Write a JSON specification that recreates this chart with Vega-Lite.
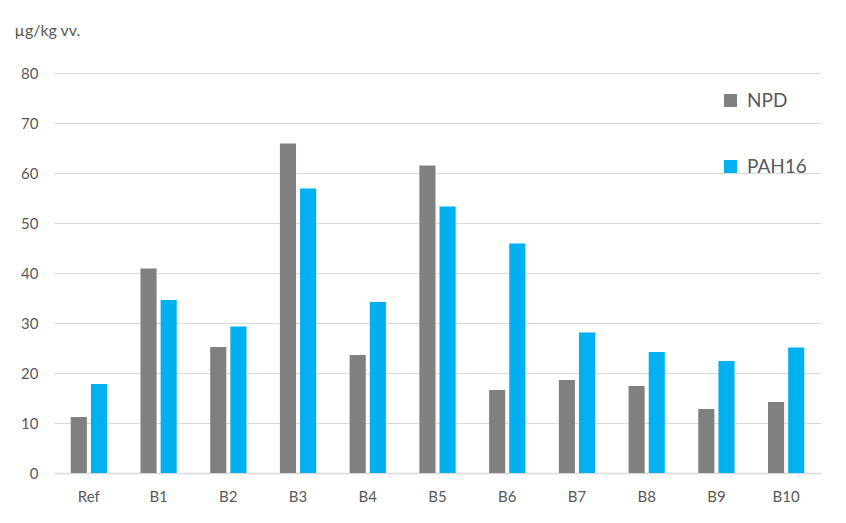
{
  "$schema": "https://vega.github.io/schema/vega-lite/v6.json",
  "width": 767,
  "height": 400,
  "autosize": {"type": "none"},
  "padding": {"left": 54, "top": 73, "right": 25, "bottom": 50},
  "background": "white",
  "config": {
    "font": "Lato",
    "view": {"stroke": null},
    "axis": {"labelFont": "Lato", "titleFont": "Lato", "labelColor": "#595959", "titleColor": "#595959"}
  },
  "data": {
    "values": [
      {"site": "Ref", "series": "NPD", "value": 11.2},
      {"site": "Ref", "series": "PAH16", "value": 17.8},
      {"site": "B1", "series": "NPD", "value": 40.9},
      {"site": "B1", "series": "PAH16", "value": 34.6},
      {"site": "B2", "series": "NPD", "value": 25.2},
      {"site": "B2", "series": "PAH16", "value": 29.3},
      {"site": "B3", "series": "NPD", "value": 65.9},
      {"site": "B3", "series": "PAH16", "value": 56.9},
      {"site": "B4", "series": "NPD", "value": 23.6},
      {"site": "B4", "series": "PAH16", "value": 34.2},
      {"site": "B5", "series": "NPD", "value": 61.5},
      {"site": "B5", "series": "PAH16", "value": 53.3},
      {"site": "B6", "series": "NPD", "value": 16.6},
      {"site": "B6", "series": "PAH16", "value": 45.9},
      {"site": "B7", "series": "NPD", "value": 18.6},
      {"site": "B7", "series": "PAH16", "value": 28.1},
      {"site": "B8", "series": "NPD", "value": 17.4},
      {"site": "B8", "series": "PAH16", "value": 24.2},
      {"site": "B9", "series": "NPD", "value": 12.8},
      {"site": "B9", "series": "PAH16", "value": 22.4},
      {"site": "B10", "series": "NPD", "value": 14.2},
      {"site": "B10", "series": "PAH16", "value": 25.1}
    ]
  },
  "mark": {"type": "bar"},
  "encoding": {
    "x": {
      "field": "site",
      "type": "nominal",
      "sort": null,
      "scale": {"paddingInner": 0.48, "paddingOuter": 0.24},
      "axis": {
        "title": null,
        "labelAngle": 0,
        "labelFontSize": 15,
        "labelPadding": 16,
        "ticks": false,
        "domainColor": "#d9d9d9",
        "domainWidth": 1.5
      }
    },
    "xOffset": {
      "field": "series",
      "type": "nominal",
      "scale": {"paddingInner": 0.2, "paddingOuter": 0}
    },
    "y": {
      "field": "value",
      "type": "quantitative",
      "scale": {"domain": [0, 80], "nice": false},
      "axis": {
        "title": "µg/kg vv.",
        "titleAngle": 0,
        "titleAlign": "left",
        "titleBaseline": "alphabetic",
        "titleX": -40,
        "titleY": -38,
        "titleFontSize": 16,
        "titleFontWeight": "normal",
        "values": [0, 10, 20, 30, 40, 50, 60, 70, 80],
        "labelOverlap": false,
        "labelFontSize": 15,
        "labelPadding": 16,
        "ticks": false,
        "domain": false,
        "gridColor": "#d9d9d9",
        "gridWidth": 1.2
      }
    },
    "color": {
      "field": "series",
      "type": "nominal",
      "scale": {"domain": ["NPD", "PAH16"], "range": ["#808080", "#00b0f0"]},
      "legend": {
        "title": null,
        "orient": "none",
        "legendX": 667,
        "legendY": 18,
        "symbolType": "square",
        "symbolSize": 170,
        "symbolStrokeWidth": 0,
        "labelFontSize": 19,
        "labelColor": "#595959",
        "labelFont": "Lato",
        "rowPadding": 46,
        "labelOffset": 7
      }
    }
  }
}
